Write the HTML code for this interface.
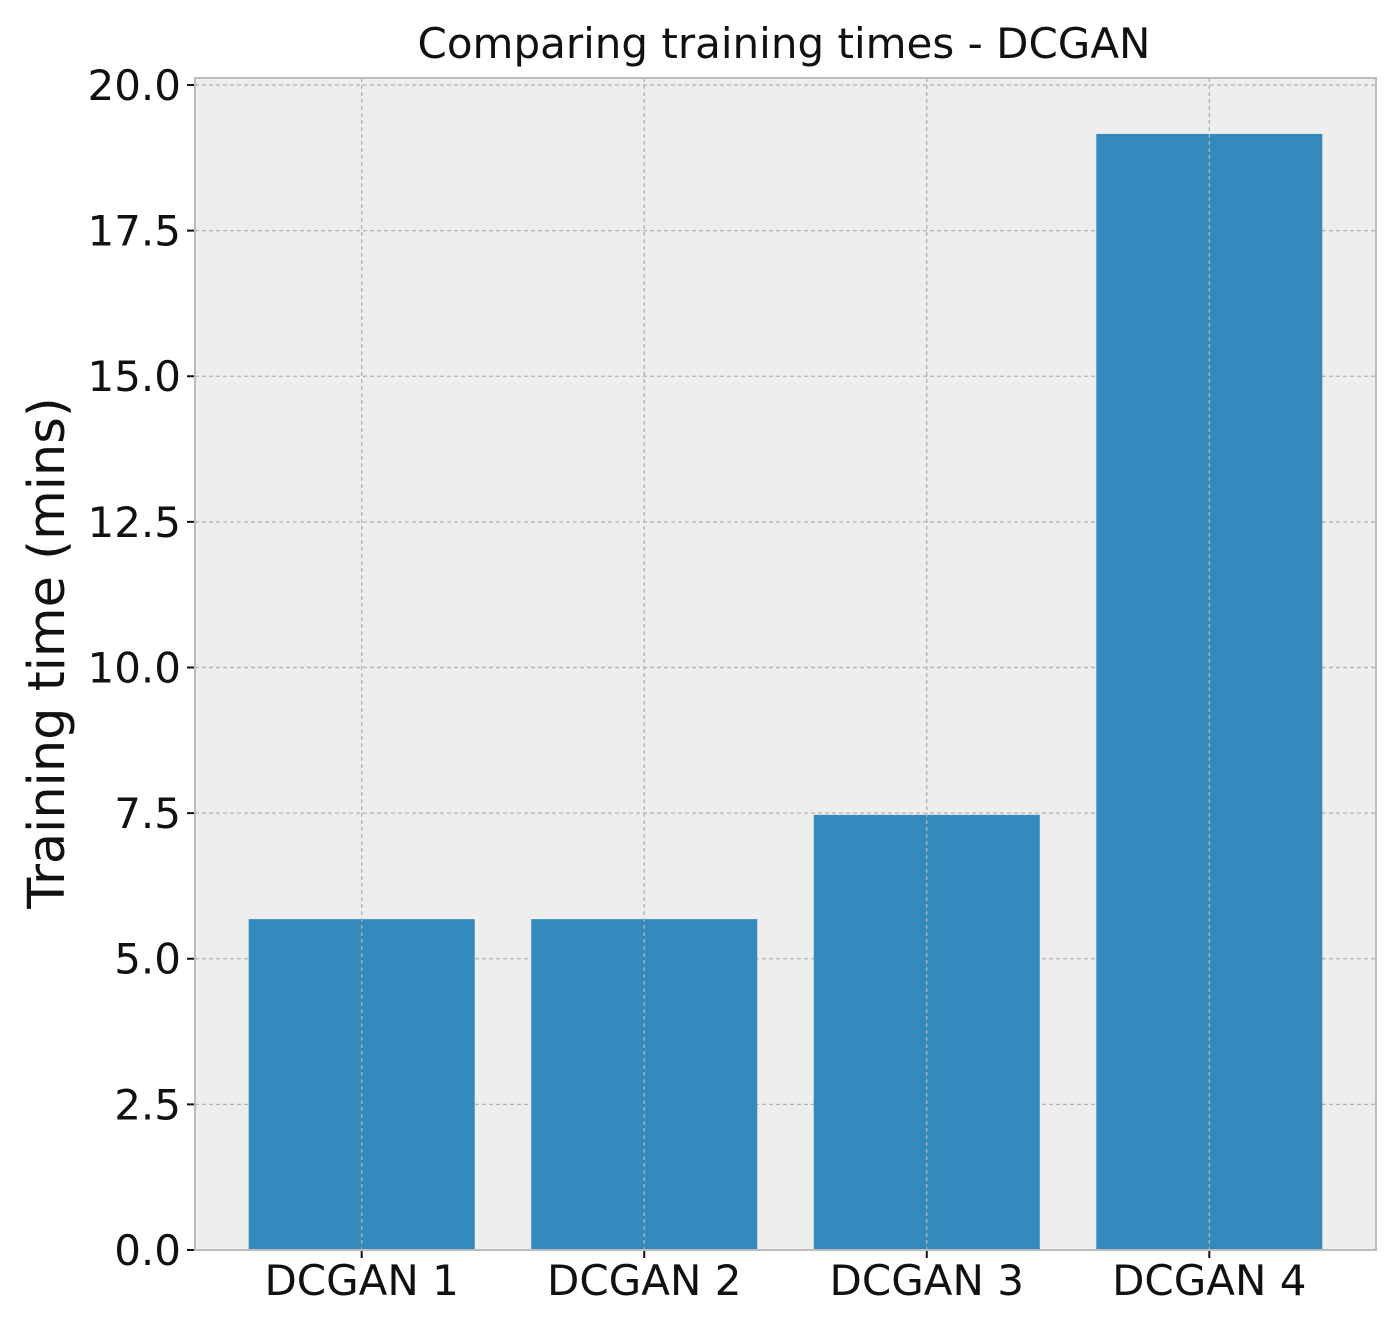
<!DOCTYPE html>
<html><head><meta charset="utf-8"><style>
html,body{margin:0;padding:0;background:#fff;}
svg{display:block;font-family:"DejaVu Sans","Liberation Sans",sans-serif;}
</style></head><body>
<svg id="chart" width="1400" height="1329">
<text x="784" y="58" text-anchor="middle" font-size="42" fill="#111">Comparing training times - DCGAN</text>
<text transform="translate(64,653) rotate(-90)" text-anchor="middle" font-size="51" fill="#111">Training time (mins)</text>
<g id="plot"></g>
</svg>
<script>
const categories = ["DCGAN 1","DCGAN 2","DCGAN 3","DCGAN 4"];
const values = [5.68, 5.68, 7.47, 19.16];
const yTicks = [0, 2.5, 5, 7.5, 10, 12.5, 15, 17.5, 20];
const yTickLabels = ["0.0","2.5","5.0","7.5","10.0","12.5","15.0","17.5","20.0"];

const L=195, R=1376, T=78, B=1250;
const yMin=0, yMax=20.12, xMin=-0.59, xMax=3.59;
const ys = v => B - (v - yMin)/(yMax - yMin)*(B - T);
const xs = i => L + (i - xMin)/(xMax - xMin)*(R - L);
const NS="http://www.w3.org/2000/svg";
const g=document.getElementById('plot');
function mk(tag,attrs){const e=document.createElementNS(NS,tag);for(const k in attrs)e.setAttribute(k,attrs[k]);g.appendChild(e);return e;}

const bg=mk('rect',{x:L,y:T,width:R-L,height:B-T,fill:'#eeeeee'});



yTicks.forEach((t,k)=>{
  const y=ys(t);
  const gl=mk('line',{x1:L,x2:R,y1:y,y2:y,stroke:'#b2b2b2','stroke-width':1.3,'stroke-dasharray':'4,3'});
  
  
  const tk=mk('line',{x1:L-8,x2:L,y1:y,y2:y,stroke:'#111','stroke-width':2});
  
  
  const tx=mk('text',{x:L-14,y:y+15,'text-anchor':'end','font-size':42,fill:'#111'});
  tx.textContent=yTickLabels[k];
  
  
});

categories.forEach((c,i)=>{
  const x=xs(i), w=(xs(0.8)-xs(0));
  const bar=mk('rect',{x:x-w/2,y:ys(values[i]),width:w,height:ys(0)-ys(values[i]),fill:'#348ABD'});
  
  
});

categories.forEach((c,i)=>{
  const x=xs(i);
  const gl=mk('line',{x1:x,x2:x,y1:T,y2:B,stroke:'#b2b2b2','stroke-width':1.3,'stroke-dasharray':'4,3'});
  
  
  const tk=mk('line',{x1:x,x2:x,y1:B,y2:B+8,stroke:'#111','stroke-width':2});
  
  
  const tx=mk('text',{x:x,y:B+45,'text-anchor':'middle','font-size':42,fill:'#111'});
  tx.textContent=c;
  
  
});

const fr=mk('rect',{x:L,y:T,width:R-L,height:B-T,fill:'none',stroke:'#bcbcbc','stroke-width':2});


</script>
</body></html>
